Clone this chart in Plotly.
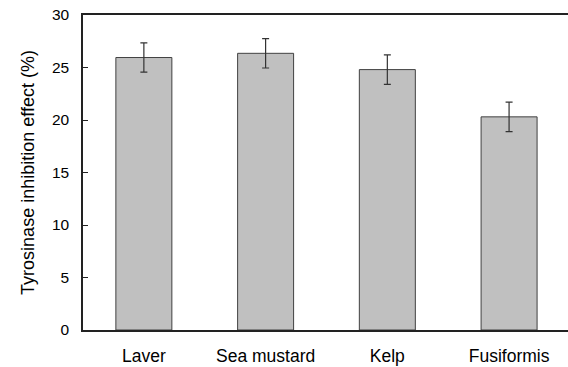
import plotly.graph_objects as go

categories = ["Laver", "Sea mustard", "Kelp", "Fusiformis"]
values = [25.95, 26.35, 24.8, 20.3]
errors = [1.4, 1.4, 1.4, 1.4]
y_ticks = [0, 5, 10, 15, 20, 25, 30]

fig = go.Figure()
fig.add_trace(go.Bar(
    x=categories,
    y=values,
    width=0.46,
    marker=dict(color="#c0c0c0", line=dict(color="#404040", width=1)),
    error_y=dict(type="data", array=errors, visible=True, color="#333333",
                 thickness=1.2, width=3.5),
))

font_family = "Arial, Liberation Sans, sans-serif"
fig.update_layout(
    width=568, height=367,
    margin=dict(l=83, r=0, t=15, b=37, autoexpand=False),
    paper_bgcolor="white", plot_bgcolor="white",
    showlegend=False,
    font=dict(family=font_family, size=15, color="black"),
    xaxis=dict(
        range=[-0.5, 3.484],
        showline=True, linecolor="#222222", linewidth=1.5, mirror=True,
        ticks="", showgrid=False, zeroline=False,
        ticklabelstandoff=9,
        tickfont=dict(family=font_family, size=17.5, color="black"),
    ),
    yaxis=dict(
        range=[0, 30],
        tickvals=y_ticks,
        showline=True, linecolor="#222222", linewidth=1.5, mirror=False,
        ticks="inside", ticklen=5, tickcolor="#222222", tickwidth=1,
        showgrid=False, zeroline=False,
        ticklabelstandoff=9,
        tickfont=dict(family=font_family, size=15.5, color="black"),
        title=dict(text="Tyrosinase inhibition effect (%)",
                   font=dict(family=font_family, size=18, color="black"),
                   standoff=13),
    ),
)

fig.write_html("out.html", config={"displayModeBar": False},
               post_script="document.body.style.margin='0';")
